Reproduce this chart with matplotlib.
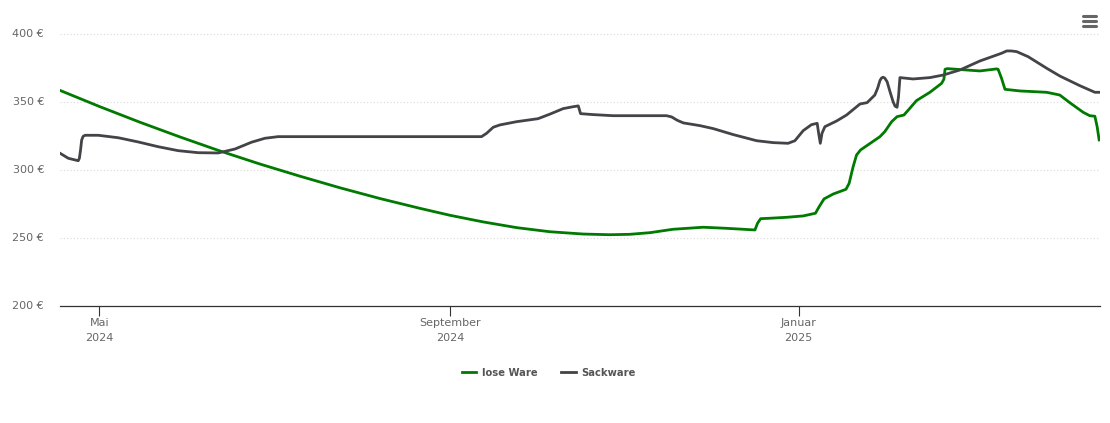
import matplotlib
matplotlib.use("Agg")
import matplotlib.pyplot as plt
from matplotlib.lines import Line2D
import pandas as pd

START = "2024-05-01"
grey_days = [-13.8,-10.9,-7.4,-7,-6.6,-6.2,-5.7,-5.0,-0.4,6.6,13.6,20.6,27.6,34.6,41.6,47.5,53.3,58,62.6,68.5,133.9,135.7,138,140.3,146.2,153.7,157.8,162.5,166,167.8,168.6,173,180,198.7,200.5,202.5,204.6,210.4,215.1,222.1,230.3,236.1,241.3,243.7,246.6,249.5,251.5,252,252.6,253.2,254.2,258.3,261.8,266.5,269,271.7,272.7,273.5,274,274.6,275.2,276,277,278.1,278.8,279.5,280,280.5,285.1,291,295.7,301.5,308.5,316.1,317.9,319.5,321.4,325.4,331.9,336.5,343.5,348.8,350.6]
grey_vals = [312.6,308.9,307.1,309,315,322.4,325,325.8,325.8,324,320.9,317.4,314.5,313,312.8,315.7,320.7,323.6,324.8,324.8,324.8,327.3,331.7,333.4,335.8,338,341.3,345.4,346.8,347.4,341.7,341,340.2,340.2,339.3,336.8,334.9,332.9,330.7,326.3,321.8,320.4,319.9,321.8,329.2,333.6,334.6,327.5,319.9,327.3,332.1,336.3,340.7,348.8,349.8,355.4,360.5,366,367.8,368.5,367.8,365.2,358,350.5,347.2,346.4,354.2,368.2,367.2,368.2,370.1,373.8,380.4,386.1,387.8,387.8,387.3,383.6,375.1,369.4,362.3,357.4,357.4]
green_days = [-13.8,0.2,14.2,28.2,42.2,56.2,70.3,84.3,98.3,112.3,122.8,134.5,146.2,157.8,169.5,178.9,185.9,192.9,201,211.6,219.8,229.7,230.6,231.7,234.9,240.8,246.6,250.9,252.2,253.9,257.1,261.6,262.7,264.1,265.3,266.7,273.5,275.2,277.6,279.5,281.9,284,286.3,291,295.1,295.9,296.3,297.1,308.5,314.4,314.9,316.1,317.3,322.5,331.9,336.5,340,344.7,347,348.8,349.6,350.3]
green_vals = [358.8,346.8,335.4,324.6,314.3,304.7,295.7,287.2,279.3,272.1,267,262.1,257.9,254.9,253.2,252.7,253,254.2,256.7,258.2,257.4,256.2,261.1,264.5,264.8,265.5,266.5,268.5,273.3,279,282.6,286.1,290.5,302.7,311.3,315,324.8,328.5,335.8,339.5,340.7,345.7,351.3,357.4,364,367,374.3,374.8,373.1,374.6,374.3,367.7,359.6,358.4,357.4,355.4,349.8,342.7,340.2,339.8,332.1,322.4]
y_ticks = [200, 250, 300, 350, 400]
x_ticks = ["2024-05-01", "2024-09-01", "2025-01-01"]
x_labels = ["Mai\n2024", "September\n2024", "Januar\n2025"]
series = ["lose Ware", "Sackware"]

W, H = 1110, 423
fig = plt.figure(figsize=(W / 100, H / 100), dpi=100)
ax = fig.add_axes([60 / W, 1 - 306.4 / H, 1040 / W, 296.4 / H])

def dates(days):
    return pd.Timestamp(START) + pd.to_timedelta(days, unit="D")

ax.plot(dates(green_days), green_vals, color="#007a00", lw=2.0, solid_joinstyle="round", label=series[0], zorder=3)
ax.plot(dates(grey_days), grey_vals, color="#434348", lw=2.0, solid_joinstyle="round", label=series[1], zorder=4)

ax.set_xlim(dates(-13.8), dates(350.6))
ax.set_ylim(200, 417.9)
ax.set_yticks(y_ticks)
ax.set_yticklabels([f"{v} €" for v in y_ticks], color="#666666", fontsize=8, family="DejaVu Sans")
ax.set_xticks(pd.to_datetime(x_ticks))
ax.set_xticklabels(x_labels, color="#666666", fontsize=8, family="DejaVu Sans", linespacing=1.65)
ax.tick_params(axis="y", length=0, pad=11.5)
ax.tick_params(axis="x", length=7.2, width=0.8, color="#333333", pad=0.8)
for lbl in ax.get_yticklabels():
    lbl.set_verticalalignment("center")
ax.grid(axis="y", color="#d8d8d8", lw=0.8, ls=(0, (1, 2)))
ax.set_axisbelow(True)
for s in ["top", "left", "right"]:
    ax.spines[s].set_visible(False)
ax.spines["bottom"].set_color("#333333")
ax.spines["bottom"].set_linewidth(0.9)

leg = fig.legend(loc="center", bbox_to_anchor=(549 / W, 1 - 373 / H), ncol=2, frameon=False,
                 prop={"family": "DejaVu Sans", "size": 8, "weight": "bold", "stretch": "condensed"},
                 labelcolor="#555555", handlelength=1.3, handletextpad=0.54, columnspacing=2.1)

for y in [16, 21, 26]:
    fig.add_artist(Line2D([1082.5 / W, 1096 / W], [1 - y / H] * 2, color="#666666", lw=2.2,
                          solid_capstyle="round"))

fig.savefig("out.png", dpi=100)
